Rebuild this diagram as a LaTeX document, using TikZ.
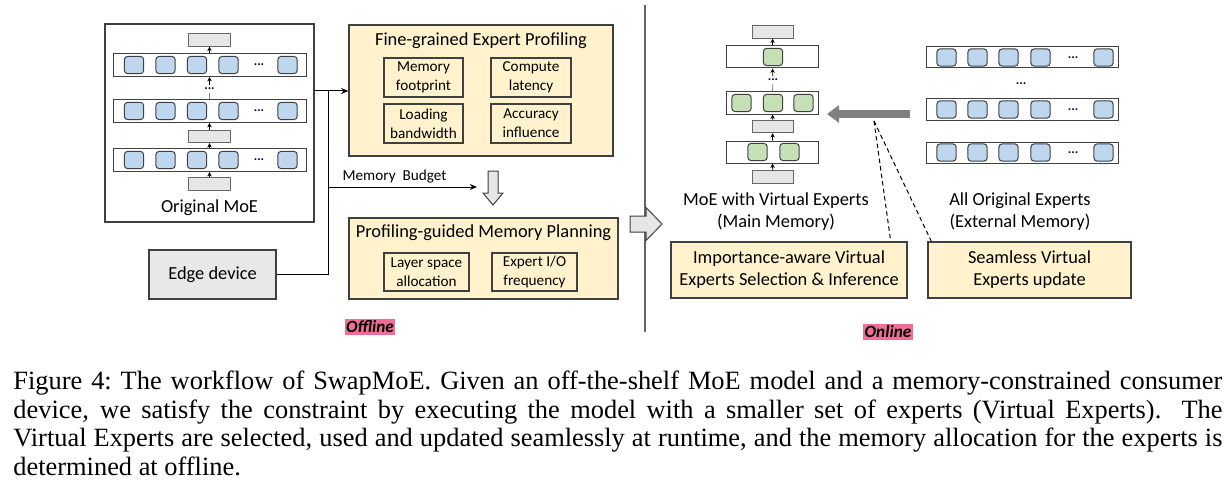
\documentclass[tikz,border=0pt]{standalone}
\usepackage{fontspec}
\setmainfont{Carlito}
\newfontfamily\capfont{Liberation Serif}
\usepackage{xcolor}
\definecolor{smcream}{RGB}{255,242,204}
\definecolor{smblue}{RGB}{190,215,238}
\definecolor{smgreen}{RGB}{197,224,180}
\definecolor{smgate}{RGB}{231,230,230}
\definecolor{smline}{RGB}{64,64,64}
\definecolor{smpink}{RGB}{240,110,150}
\definecolor{smgray}{RGB}{128,128,128}
\usepackage{tikz}
\usetikzlibrary{positioning,arrows.meta,calc}

\begin{document}
\begin{tikzpicture}[
  x=0.5pt,y=-0.5pt,
  font=\fontsize{9.2}{10.8}\selectfont,
  frame/.style={draw=smline,line width=0.7pt},
  panel/.style={draw=smline,line width=0.7pt,fill=smcream},
  metric/.style={draw=smline,line width=0.6pt,align=center,inner sep=0pt,font=\fontsize{7.6}{9.5}\selectfont},
  layer/.style={draw=smline,line width=0.5pt,fill=white,inner sep=0pt,minimum height=11.5pt},
  gate/.style={draw=smline!80,line width=0.5pt,fill=smgate,inner sep=0pt,minimum width=21pt,minimum height=6.2pt},
  expert/.style={draw=smline,line width=0.5pt,rounded corners=1.6pt,inner sep=0pt,minimum width=9.6pt,minimum height=8.6pt},
  orig/.style={expert,fill=smblue},
  virt/.style={expert,fill=smgreen},
  dots/.style={inner sep=0.3pt,text=blue!30!black,font=\fontsize{6.5}{6.5}\selectfont\bfseries},
  tiny/.style={-{Stealth[length=2.2pt,width=2.2pt]},line width=0.4pt},
  ar/.style={-{Stealth[length=3.6pt,width=3pt]},line width=0.5pt},
  tag/.style={fill=smpink,inner sep=0.8pt,font=\fontsize{8.6}{10}\selectfont\bfseries\itshape},
  hollow/.style={draw=smline,line width=0.5pt,fill=smgate},
]
\useasboundingbox (0,0) rectangle (1229,492);

% ---- offline side: original model
\node[frame,minimum width=104.5pt,minimum height=99pt] (moe) at (209.5,123) {};
\foreach \r/\y in {1/65,2/111,3/160} {
  \node[layer,minimum width=96.5pt] (L\r) at (209.5,\y) {};
  \foreach \e/\x in {1/134,2/165.5,3/197,4/228.5,6/287.5}
    \node[orig] (L\r e\e) at (\x,\y) {};
  \node[dots] (L\r d) at (259,\y) {...};
}
\node[gate] (g0) at (209.5,184) {};
\node[gate] (g1) at (209.5,136.5) {};
\node[gate] (g2) at (209.5,40) {};
\node[dots,inner sep=1.2pt] (ldots) at (209.5,89) {...};
\draw[tiny] (g0) -- (L3);
\draw[tiny] (L3) -- (g1);
\draw[tiny] (g1) -- (L2);
\draw[line width=0.4pt,smgray] (L2) -- (ldots);
\draw[tiny] (ldots) -- (L1);
\draw[tiny] (L1) -- (g2);
\node (moecap) at (209.5,208) {Original MoE};

\node[draw=smline,line width=0.7pt,fill=smgate!90!white,minimum width=63.5pt,minimum height=24.5pt] (edge) at (212.5,274.5) {Edge device};

% ---- profiling
\node[panel,minimum width=132pt,minimum height=65.5pt] (prof) at (481,90.5) {};
\node (proft) at (481,41) {Fine-grained Expert Profiling};
\node[metric,minimum width=39.5pt,minimum height=19.5pt] (mem) at (423.5,77.5) {Memory\\footprint};
\node[metric,minimum width=40pt,minimum height=19.5pt] (cmp) at (531,77.5) {Compute\\latency};
\node[metric,minimum width=39.5pt,minimum height=19.5pt] (load) at (423.5,123.5) {Loading\\bandwidth};
\node[metric,minimum width=40pt,minimum height=19.5pt] (acc) at (531,123.5) {Accuracy\\influence};

% ---- planning
\node[panel,minimum width=134.5pt,minimum height=40.5pt] (plan) at (483.5,258.5) {};
\node (plant) at (483.5,233) {Profiling-guided Memory Planning};
\node[metric,minimum width=42.5pt,minimum height=19pt] (lsa) at (426.5,272) {Layer space\\allocation};
\node[metric,minimum width=42.5pt,minimum height=19pt] (eio) at (534.5,272) {Expert I/O\\frequency};

\coordinate (dn) at (493,171);
\draw[hollow] (dn) ++(-5,0) -- ++(10,0) -- ++(0,22) -- ++(5,0) -- ++(-10,12) -- ++(-10,-12) -- ++(5,0) -- cycle;

% connectors
\coordinate (tap) at (328,91);
\coordinate (bud) at (328,187);
\coordinate (budend) at (477,187);
\draw[ar] (moe.east |- tap) -- (prof.west |- tap);
\draw[line width=0.5pt] (edge.east) -| (tap);
\draw[ar] (bud) -- (budend);
\node[font=\fontsize{7.6}{9}\selectfont] (budlbl) at (394.5,177) {Memory\ \ Budget};

\node[tag] (offl) at (370,327) {Offline};

% ---- split
\coordinate (splitT) at (645,5);
\coordinate (splitB) at (645,332);
\draw[smline!80,line width=0.6pt] (splitT) -- (splitB);
\coordinate (rt) at (630,216);
\draw[hollow] (rt) -- ++(16,0) -- ++(0,-8.5) -- ++(16,16.5) -- ++(-16,16.5) -- ++(0,-8.5) -- ++(-16,0) -- cycle;

% ---- online side: virtual experts
\foreach \r/\y in {1/57,2/103,3/152}
  \node[layer,minimum width=46pt,minimum height=11pt] (V\r) at (772,\y) {};
\node[virt] (V1e1) at (773,57) {};
\foreach \e/\x in {1/741.5,2/773,3/803.5}
  \node[virt] (V2e\e) at (\x,103) {};
\foreach \e/\x in {1/757.5,2/789.5}
  \node[virt] (V3e\e) at (\x,152) {};
\node[gate,minimum width=20.5pt] (h0) at (773,177) {};
\node[gate,minimum width=20.5pt] (h1) at (773,126.5) {};
\node[gate,minimum width=20.5pt] (h2) at (773,32) {};
\node[dots,inner sep=1.2pt] (vdots) at (773,80) {...};
\draw[tiny] (h0) -- (V3);
\draw[tiny] (V3) -- (h1);
\draw[tiny] (h1) -- (V2);
\draw[line width=0.4pt,smgray] (V2) -- (vdots);
\draw[tiny] (vdots) -- (V1);
\draw[tiny] (V1) -- (h2);
\node[align=center] (vcap) at (776,211.5) {MoE with Virtual Experts\\(Main Memory)};

% ---- all original experts
\foreach \r/\y in {1/57.5,2/109.5,3/152.5} {
  \node[layer,minimum width=96pt,minimum height=10.5pt] (A\r) at (1022,\y) {};
  \foreach \e/\x in {1/946.5,2/977.5,3/1008.5,4/1040.5,6/1103.5}
    \node[orig] (A\r e\e) at (\x,\y) {};
  \node[dots] (A\r d) at (1073,\y) {...};
}
\node[dots] (adots) at (1021,84) {...};
\node[align=center] (acap) at (1020,211.5) {All Original Experts\\(External Memory)};

% swap in
\coordinate (swapS) at (910,114);
\coordinate (swapE) at (827,114);
\draw[smgray,line width=4pt,-{Triangle[length=6pt,width=8.5pt]}] (swapS) -- (swapE);
\coordinate (swapC) at (874,121);

\node[panel,align=center,minimum width=118pt,minimum height=28pt,font=\fontsize{9.2}{11}\selectfont] (imp) at (789,270) {Importance-aware Virtual\\Experts Selection \& Inference};
\node[panel,align=center,minimum width=101.5pt,minimum height=28pt,font=\fontsize{9.2}{11}\selectfont] (seam) at (1029.5,270) {Seamless Virtual\\Experts update};
\draw[dash pattern=on 2.2pt off 1.6pt,line width=0.5pt] (swapC) -- ($(imp.north east)+(-17,0)$);
\draw[dash pattern=on 2.2pt off 1.6pt,line width=0.5pt] (swapC) -- ($(seam.north west)+(4,0)$);

\node[tag] (onl) at (888,332) {Online};

% ---- caption
\node[anchor=north west,inner sep=0pt,text width=604.5pt,align=justify,font=\capfont\fontsize{13.2}{14.25}\selectfont] (cap) at (13,371) {Figure 4:\ The workflow of SwapMoE. Given an off-the-shelf MoE model and a memory-constrained consumer\linebreak device, we satisfy the constraint by executing the model with a smaller set of experts (Virtual Experts). The\linebreak Virtual Experts are selected, used and updated seamlessly at runtime, and the memory allocation for the experts is\linebreak determined at offline.};
\end{tikzpicture}
\end{document}
